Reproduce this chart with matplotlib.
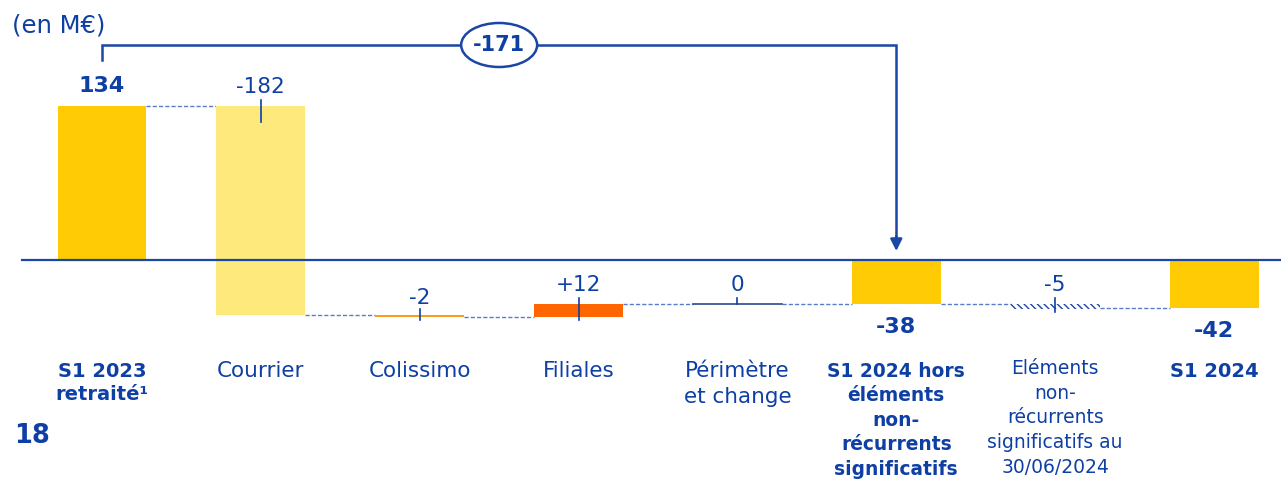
import matplotlib
matplotlib.use("Agg")
import matplotlib.pyplot as plt
from matplotlib.patches import Ellipse
import numpy as np

# ---- data ----
categories = ["S1 2023\nretraité¹", "Courrier", "Colissimo", "Filiales",
              "Périmètre\net change",
              "S1 2024 hors\néléments\nnon-\nrécurrents\nsignificatifs",
              "Eléments\nnon-\nrécurrents\nsignificatifs au\n30/06/2024",
              "S1 2024"]
values = [134, -182, -2, 12, 0, -38, -5, -42]
kinds = ["total", "delta", "delta", "delta", "delta", "total", "delta", "total"]
value_labels = ["134", "-182", "-2", "+12", "0", "-38", "-5", "-42"]
bridge_label = "-171"
unit_label = "(en M€)"
page_number = "18"

# ---- style ----
BLUE = "#0E3FA5"
LINE_BLUE = "#1A46A6"
DASH_BLUE = "#5A7CC8"
GOLD = "#FFCB05"
bar_colors = [GOLD, "#FDE97C", "#F8A01C", "#FF6600", "#2B4A8A", GOLD, "none", GOLD]
bold_cat = [True, False, False, False, False, True, False, True]
cat_size = [14, 15.5, 15.5, 15.5, 15.5, 13.4, 13.5, 14]
cat_top_px = [362, 361, 361, 361, 361, 362, 359, 362]
cat_ls = [1.3, 1.2, 1.2, 1.2, 1.4, 1.36, 1.38, 1.3]
FONT = ["DejaVu Sans"]
plt.rcParams["font.family"] = FONT
plt.rcParams["hatch.linewidth"] = 1.0

W, H, DPI = 12.81, 4.8, 100
fig = plt.figure(figsize=(W, H), dpi=DPI)
ax = fig.add_axes([0, 0, 1, 1])
ax.set_axis_off()

# pixel geometry -> axis limits
x0_px, step_px = 102, 158.86
zero_py, ppu = 260, 1.149
ax.set_xlim(-x0_px / step_px, (1281 - x0_px) / step_px)
ax.set_ylim(-(480 - zero_py) / ppu, zero_py / ppu)

def val_at(py):
    return (zero_py - py) / ppu

def pt(px):
    return px * 72 / DPI

bw = 0.56

# compute bar extents
bottoms, tops, levels_after = [], [], []
running = 0
for v, k in zip(values, kinds):
    if k == "total":
        b, t = 0, v
        running = v
    else:
        b, t = running, running + v
        running = running + v
    bottoms.append(b)
    tops.append(t)
    levels_after.append(running)

# bars
for i, (b, t, k) in enumerate(zip(bottoms, tops, kinds)):
    h = t - b
    if i == 4:  # zero-change item drawn as a line
        ax.plot([i - bw / 2, i + bw / 2], [b, b], color=bar_colors[i], lw=1.2, zorder=3)
    elif i == 6:
        ax.bar(i, h, bottom=b, width=bw, facecolor="none", edgecolor=LINE_BLUE,
               hatch="\\\\\\\\\\", linewidth=0, zorder=3)
    else:
        ax.bar(i, h, bottom=b, width=bw, color=bar_colors[i], linewidth=0, zorder=3)

# zero line
ax.axhline(0, xmin=22 / 1281, xmax=1, color=LINE_BLUE, lw=1.6, zorder=4)

# connectors
for i in range(len(values) - 1):
    nxt = i + 1
    y_c = levels_after[i] if i != 6 else tops[nxt]
    ax.plot([i + bw / 2, nxt - bw / 2], [y_c, y_c], color=DASH_BLUE, lw=1.0,
            ls=(0, (3, 1.5)), zorder=2)

# value labels and ticks
for i, (lab, b, t, k) in enumerate(zip(value_labels, bottoms, tops, kinds)):
    if k == "total":
        dy = 20 if values[i] >= 0 else -23
        ax.annotate(lab, (i, t), xytext=(0, pt(dy)), textcoords="offset points",
                    ha="center", va="center", fontsize=16, fontweight="bold", color=BLUE)
    else:
        top = max(b, t)
        dy = 19 if i != 2 else 17
        ax.annotate(lab, (i, top), xytext=(0, pt(dy)), textcoords="offset points",
                    ha="center", va="center", fontsize=15.5, color=BLUE)
        tick_dn = 16 if i == 1 else (0 if i == 4 else min(16, abs(t - b) * ppu + 3))
        p1 = ax.transData.transform((i, top))
        ax.plot([p1[0], p1[0]], [p1[1] + 6, p1[1] - tick_dn],
                transform=None, color=BLUE, lw=1.2, zorder=5)

# category labels
for i, (c, bld, fs, tp, ls) in enumerate(zip(categories, bold_cat, cat_size, cat_top_px, cat_ls)):
    ax.text(i, 1 - tp / 480, c, transform=ax.get_xaxis_transform(), ha="center", va="top",
            fontsize=fs, fontweight="bold" if bld else "normal", color=BLUE,
            linespacing=ls)

# bridge bracket
y_br = val_at(45)
y_start = val_at(60)
y_tip = val_at(251)
ax.plot([0, 0, 5, 5], [y_start, y_br, y_br, val_at(240)], color=LINE_BLUE, lw=1.8,
        zorder=5, solid_joinstyle="miter")
ax.annotate("", xy=(5, y_tip), xytext=(5, val_at(236)),
            arrowprops=dict(arrowstyle="-|>,head_length=0.7,head_width=0.35",
                            color=LINE_BLUE, lw=1.8, shrinkA=0, shrinkB=0), zorder=6)
ell = Ellipse((2.5, y_br), width=76 / step_px, height=44 / ppu, facecolor="white",
              edgecolor=LINE_BLUE, lw=1.8, zorder=6)
ax.add_patch(ell)
ax.text(2.5, y_br, bridge_label, ha="center", va="center", fontsize=15,
        fontweight="bold", color=BLUE, zorder=7)

fig.text(12 / 1281, 1 - 25 / 480, unit_label, ha="left", va="center", fontsize=17.5,
         color=BLUE)
fig.text(14 / 1281, 1 - 436 / 480, page_number, ha="left", va="center", fontsize=18.5,
         fontweight="bold", color=BLUE)

fig.savefig("out.png", dpi=DPI, facecolor="white")
